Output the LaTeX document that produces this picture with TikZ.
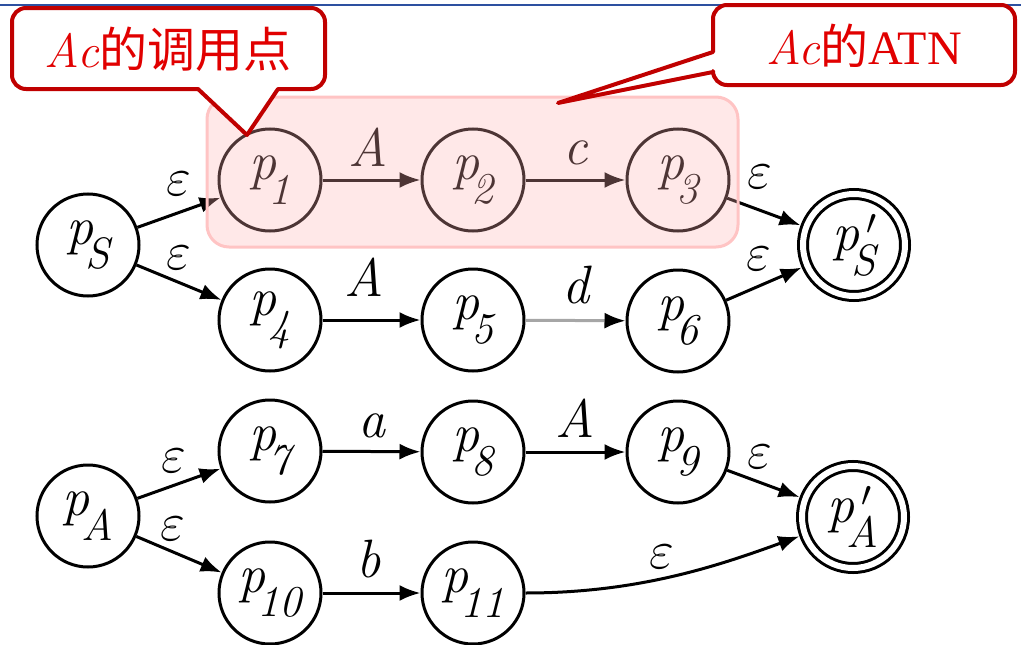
\RequirePackage{fix-cm}
\documentclass[tikz,border=0pt]{standalone}
\usepackage{fontspec}
\setmainfont{Liberation Serif}
\newfontfamily\lmrm{Latin Modern Roman}
\newcommand\lmit{\lmrm\itshape}
\newfontfamily\cjk{Noto Sans CJK SC}
\usetikzlibrary{arrows.meta}

\definecolor{calloutred}{RGB}{192,0,0}
\definecolor{textred}{RGB}{225,0,0}
\definecolor{rulerblue}{RGB}{45,80,160}
\definecolor{atnpink}{RGB}{255,178,178}
\definecolor{atnborder}{RGB}{255,196,196}

% state names: italic p with a large, low subscript (and an optional prime)
\newcommand\subfnt{\fontsize{44}{44}\selectfont}
\newcommand\st[1]{{\lmit p\kern-0.16em\raisebox{-0.46em}{\subfnt #1}}}
\newcommand\stf[1]{{\lmit p\rlap{\kern0.12em\raisebox{0.3em}{\fontsize{36}{36}\selectfont$\prime$}}\kern-0.16em\raisebox{-0.46em}{\subfnt #1}}}
\newcommand\eps{$\varepsilon$}

\begin{document}
\begin{tikzpicture}[x=1pt,y=-1pt,
  state/.style={circle,draw,line width=3pt,minimum size=102pt,inner sep=0pt,
    font=\fontsize{54}{54}\selectfont},
  final/.style={state,double,double distance=6pt,outer sep=6pt},
  edge/.style={line width=3pt,-{Latex[length=21pt,width=16pt]}},
  lbl/.style={font=\fontsize{54}{54}\selectfont\lmit,inner sep=2pt},
  callout/.style={draw=calloutred,line width=4pt,fill=white,line join=round},
  callouttext/.style={text=textred,font=\fontsize{48}{48}\selectfont,inner sep=0pt}]
\useasboundingbox (0,0) rectangle (1021,645);

% rule across the top
\draw[rulerblue,line width=2.5pt] (0,5) -- (1021,5);

% states of S
\node[state] (pS)  at (88,245)  {\st{S}};
\node[state] (p1)  at (270,180) {\st{1}};
\node[state] (p2)  at (473,180) {\st{2}};
\node[state] (p3)  at (678,180) {\st{3}};
\node[state] (p4)  at (270,320) {\st{4}};
\node[state] (p5)  at (473,320) {\st{5}};
\node[state] (p6)  at (678,321) {\st{6}};
\node[final] (pSf) at (854,245) {\stf{S}};

% states of A
\node[state] (pA)  at (88,516)  {\st{A}};
\node[state] (p7)  at (270,451) {\st{7}};
\node[state] (p8)  at (473,452) {\st{8}};
\node[state] (p9)  at (678,452) {\st{9}};
\node[state] (p10) at (270,593) {\st{10}};
\node[state] (p11) at (473,593) {\st{11}};
\node[final] (pAf) at (853,517) {\stf{A}};

% transitions of S
\draw[edge] (pS) -- node[lbl,above=14pt] {\eps} (p1);
\draw[edge] (pS) -- node[lbl,above=10pt] {\eps} (p4);
\draw[edge] (p1) -- node[lbl,above=10pt,xshift=-3pt] {A} (p2);
\draw[edge] (p2) -- node[lbl,above=11pt] {c} (p3);
\draw[edge] (p3) -- node[lbl,above=20pt,xshift=-4pt] {\eps} (pSf);
\draw[edge] (p4) -- node[lbl,above=20pt,xshift=-7pt] {A} (p5);
\draw[edge,draw=black!35,-{Latex[length=21pt,width=16pt,black]}] (p5) -- node[lbl,above=13pt] {d} (p6);
\draw[edge] (p6) -- node[lbl,above=10pt,xshift=-5pt] {\eps} (pSf);

% transitions of A
\draw[edge] (pA) -- node[lbl,above=8pt,xshift=-5pt] {\eps} (p7);
\draw[edge] (pA) -- node[lbl,above=11pt,xshift=-6pt] {\eps} (p10);
\draw[edge] (p7) -- node[lbl,above=10pt] {a} (p8);
\draw[edge] (p8) -- node[lbl,above=11pt] {A} (p9);
\draw[edge] (p9) -- node[lbl,above=12pt,xshift=-4pt] {\eps} (pAf);
\draw[edge] (p10) -- node[lbl,above=11pt,xshift=-3pt] {b} (p11);
\draw[edge] (p11) .. controls (640,593) and (720,565) .. node[lbl,pos=0.45,above=6pt] {\eps} (pAf);

% highlighted sub-network of Ac
\fill[atnpink,fill opacity=0.3,rounded corners=22pt] (207,97) rectangle (738,247);
\draw[atnborder,line width=3pt,rounded corners=22pt] (207,97) rectangle (738,247);

% callouts
\draw[callout] (247,135) -- (198,89) [rounded corners=14pt] -- (12,89) -- (12,8)
  -- (325,8) -- (325,89) [sharp corners] -- (278,89) -- cycle;
\node[callouttext] (c1) at (168,49) {{\lmit Ac}{\cjk 的调用点}};

\draw[callout] (558,103) -- (713,72) [rounded corners=14pt] -- (713,85) -- (1015,85)
  -- (1015,5) -- (713,5) [sharp corners] -- (713,52) -- cycle;
\node[callouttext] (c2) at (864,46) {{\lmit Ac}{\cjk 的}ATN};
\end{tikzpicture}
\end{document}
